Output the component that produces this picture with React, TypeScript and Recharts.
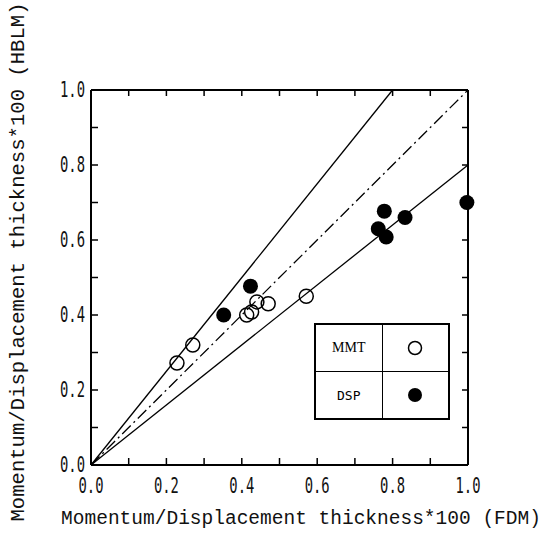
import React from 'react';
import {
  ScatterChart,
  Scatter,
  XAxis,
  YAxis,
  ReferenceLine,
  Legend,
} from 'recharts';

// Momentum thickness (MMT) and displacement thickness (DSP), FDM vs HBLM
const mmtPoints = [
  { x: 0.228, y: 0.272 },
  { x: 0.27, y: 0.32 },
  { x: 0.413, y: 0.4 },
  { x: 0.426, y: 0.408 },
  { x: 0.44, y: 0.435 },
  { x: 0.47, y: 0.43 },
  { x: 0.571, y: 0.45 },
];

const dspPoints = [
  { x: 0.352, y: 0.4 },
  { x: 0.423, y: 0.477 },
  { x: 0.762, y: 0.63 },
  { x: 0.778, y: 0.677 },
  { x: 0.783, y: 0.608 },
  { x: 0.833, y: 0.66 },
  { x: 0.997, y: 0.7 },
];

// guide lines: +25%, equality, -20%
const upperLine = [{ x: 0, y: 0 }, { x: 0.8, y: 1.0 }];
const equalLine = [{ x: 0, y: 0 }, { x: 1.0, y: 1.0 }];
const lowerLine = [{ x: 0, y: 0 }, { x: 1.0, y: 0.8 }];

const ticks = [0, 0.1, 0.2, 0.3, 0.4, 0.5, 0.6, 0.7, 0.8, 0.9, 1.0];

const xTitle = 'Momentum/Displacement thickness*100 (FDM)';
const yTitle = 'Momentum/Displacement thickness*100 (HBLM)';
const seriesNames = ['MMT', 'DSP'];

const W = 543;
const H = 538;
const margin = { top: 90, right: 75, bottom: 73, left: 91 };
const plotBottom = H - margin.bottom;

const tickFont = "'DejaVu Sans Mono', monospace";
const titleFont = "'Liberation Mono', 'DejaVu Sans Mono', monospace";

const isMajor = (v: number) => Math.round(v * 10) % 2 === 0;

const BottomTick = (props: any) => {
  const v = props.payload.value;
  if (!isMajor(v)) return <g />;
  return (
    <text
      x={props.x}
      y={plotBottom + 28}
      textAnchor="middle"
      fontFamily={tickFont}
      fontSize={21}
      textLength={25}
      lengthAdjust="spacingAndGlyphs"
      fill="#111"
    >
      {v.toFixed(1)}
    </text>
  );
};

const LeftTick = (props: any) => {
  const v = props.payload.value;
  if (!isMajor(v)) return <g />;
  return (
    <text
      x={85}
      y={props.y + 7}
      textAnchor="end"
      fontFamily={tickFont}
      fontSize={21}
      textLength={25}
      lengthAdjust="spacingAndGlyphs"
      fill="#111"
    >
      {v.toFixed(1)}
    </text>
  );
};

const NoTick = () => <g />;

const OpenDot = (props: any) => (
  <circle cx={props.cx} cy={props.cy} r={7} fill="none" stroke="#000" strokeWidth={1.5} />
);

const FilledDot = (props: any) => (
  <circle cx={props.cx} cy={props.cy} r={7.5} fill="#000" />
);

const cell: React.CSSProperties = {
  border: '1.5px solid #000',
  width: 66,
  height: 46,
  textAlign: 'center',
  verticalAlign: 'middle',
  padding: 0,
};

const LegendTable = () => (
  <table style={{ borderCollapse: 'collapse', border: '2px solid #000', background: '#fff' }}>
    <tbody>
      <tr>
        <td style={{ ...cell, fontFamily: "'Liberation Serif', serif", fontSize: 14 }}>{seriesNames[0]}</td>
        <td style={cell}>
          <svg width={18} height={18} style={{ display: 'block', margin: '0 auto' }}>
            <circle cx={9} cy={9} r={6.5} fill="none" stroke="#000" strokeWidth={1.5} />
          </svg>
        </td>
      </tr>
      <tr>
        <td style={{ ...cell, fontFamily: "'DejaVu Sans Mono', monospace", fontSize: 13 }}>{seriesNames[1]}</td>
        <td style={cell}>
          <svg width={18} height={18} style={{ display: 'block', margin: '0 auto' }}>
            <circle cx={9} cy={9} r={7} fill="#000" />
          </svg>
        </td>
      </tr>
    </tbody>
  </table>
);

const axisLine = { stroke: '#000', strokeWidth: 2 };
const tickLine = { stroke: '#000', strokeWidth: 1.5 };

export default function App() {
  return (
    <div style={{ position: 'absolute', left: 0, top: 0, width: W, height: H, background: '#fff' }}>
      <ScatterChart width={W} height={H} margin={margin}>
        <XAxis
          xAxisId="b"
          type="number"
          dataKey="x"
          orientation="bottom"
          domain={[0, 1]}
          ticks={ticks}
          interval={0}
          mirror
          tickSize={7}
          axisLine={axisLine}
          tickLine={tickLine}
          tick={BottomTick}
        />
        <XAxis
          xAxisId="t"
          type="number"
          dataKey="x"
          orientation="top"
          domain={[0, 1]}
          allowDataOverflow
          ticks={ticks}
          interval={0}
          mirror
          tickSize={6}
          axisLine={axisLine}
          tickLine={tickLine}
          tick={NoTick}
        />
        <YAxis
          yAxisId="l"
          type="number"
          dataKey="y"
          orientation="left"
          domain={[0, 1]}
          ticks={ticks}
          interval={0}
          mirror
          tickSize={7}
          axisLine={axisLine}
          tickLine={tickLine}
          tick={LeftTick}
        />
        <YAxis
          yAxisId="r"
          type="number"
          dataKey="y"
          orientation="right"
          domain={[0, 1]}
          allowDataOverflow
          ticks={ticks}
          interval={0}
          mirror
          tickSize={6}
          axisLine={axisLine}
          tickLine={tickLine}
          tick={NoTick}
        />
        <ReferenceLine xAxisId="b" yAxisId="l" segment={upperLine} stroke="#000" strokeWidth={1.3} />
        <ReferenceLine
          xAxisId="b"
          yAxisId="l"
          segment={equalLine}
          stroke="#000"
          strokeWidth={1.3}
          strokeDasharray="12 4 2 4"
        />
        <ReferenceLine xAxisId="b" yAxisId="l" segment={lowerLine} stroke="#000" strokeWidth={1.3} />
        <Scatter
          name={seriesNames[0]}
          data={mmtPoints}
          xAxisId="b"
          yAxisId="l"
          shape={OpenDot}
          isAnimationActive={false}
        />
        <Scatter
          name={seriesNames[1]}
          data={dspPoints}
          xAxisId="b"
          yAxisId="l"
          shape={FilledDot}
          isAnimationActive={false}
        />
        <Legend
          layout="horizontal"
          verticalAlign="middle"
          align="center"
          wrapperStyle={{ left: 314, top: 323, width: 136, height: 96 }}
          content={() => <LegendTable />}
        />
      </ScatterChart>
      <svg
        width={W}
        height={H}
        style={{ position: 'absolute', left: 0, top: 0, pointerEvents: 'none' }}
      >
        <text
          x={301}
          y={524}
          textAnchor="middle"
          fontFamily={titleFont}
          fontSize={19.5}
          fill="#111"
        >
          {xTitle}
        </text>
        <text
          x={24}
          y={262}
          textAnchor="middle"
          fontFamily={titleFont}
          fontSize={20.6}
          fill="#111"
          transform="rotate(-90 24 262)"
        >
          {yTitle}
        </text>
      </svg>
    </div>
  );
}
